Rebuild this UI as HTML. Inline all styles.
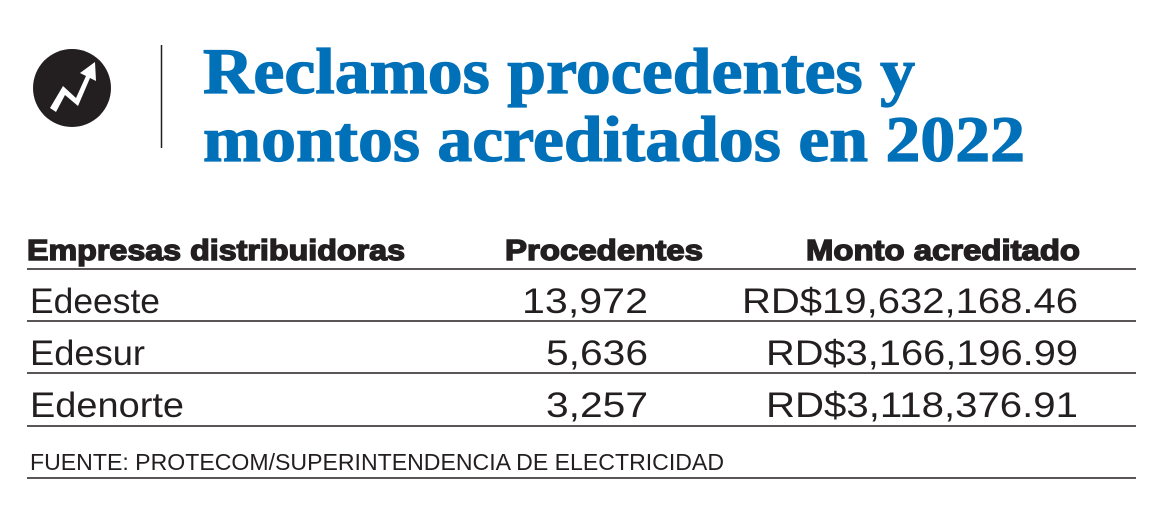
<!DOCTYPE html>
<html><head><meta charset="utf-8"><style>body{margin:0;background:#fff}svg{display:block}</style></head><body>
<svg width="1168" height="513" viewBox="0 0 1168 513" xmlns="http://www.w3.org/2000/svg">
<rect width="1168" height="513" fill="#fff"/>
<circle cx="72" cy="88" r="39" fill="#231f20"/>
<polygon points="50,108 63,86 76,98 86,76 80,73 95,62 96,81 90,78 78,106 65,95 56,112" fill="#fff"/>
<line x1="161.5" y1="45" x2="161.5" y2="148" stroke="#231f20" stroke-width="1.5"/>
<g font-family="Liberation Serif, serif" font-weight="bold" fill="#0070b8" font-size="65" stroke="#0070b8" stroke-width="1.2">
<text x="203" y="93" textLength="712" lengthAdjust="spacingAndGlyphs">Reclamos procedentes y</text>
<text x="203" y="161" textLength="822" lengthAdjust="spacingAndGlyphs">montos acreditados en 2022</text>
</g>
<g font-family="Liberation Sans, sans-serif" font-weight="bold" fill="#231f20" font-size="29" stroke="#231f20" stroke-width="1.4">
<text x="27" y="260" textLength="378" lengthAdjust="spacingAndGlyphs">Empresas distribuidoras</text>
<text x="505" y="260" textLength="198" lengthAdjust="spacingAndGlyphs">Procedentes</text>
<text x="806" y="260" textLength="274" lengthAdjust="spacingAndGlyphs">Monto acreditado</text>
</g>
<g stroke="#231f20" stroke-width="1.5">
<line x1="27" y1="269" x2="1136" y2="269"/>
<line x1="27" y1="321" x2="1136" y2="321"/>
<line x1="27" y1="373" x2="1136" y2="373"/>
<line x1="27" y1="426" x2="1136" y2="426"/>
<line x1="27" y1="478" x2="1136" y2="478"/>
</g>
<g font-family="Liberation Sans, sans-serif" fill="#231f20" font-size="35">
<text x="30" y="313" textLength="130" lengthAdjust="spacingAndGlyphs">Edeeste</text>
<text x="30" y="365" textLength="115" lengthAdjust="spacingAndGlyphs">Edesur</text>
<text x="30" y="417" textLength="154" lengthAdjust="spacingAndGlyphs">Edenorte</text>
<text x="648" y="313" text-anchor="end" textLength="126" lengthAdjust="spacingAndGlyphs">13,972</text>
<text x="648" y="365" text-anchor="end" textLength="102" lengthAdjust="spacingAndGlyphs">5,636</text>
<text x="648" y="417" text-anchor="end" textLength="102" lengthAdjust="spacingAndGlyphs">3,257</text>
<text x="1078" y="313" text-anchor="end" textLength="336" lengthAdjust="spacingAndGlyphs">RD$19,632,168.46</text>
<text x="1078" y="365" text-anchor="end" textLength="312" lengthAdjust="spacingAndGlyphs">RD$3,166,196.99</text>
<text x="1078" y="417" text-anchor="end" textLength="312" lengthAdjust="spacingAndGlyphs">RD$3,118,376.91</text>
</g>
<text x="30" y="470" font-family="Liberation Sans, sans-serif" fill="#231f20" font-size="23" textLength="694" lengthAdjust="spacingAndGlyphs">FUENTE: PROTECOM/SUPERINTENDENCIA DE ELECTRICIDAD</text>
</svg>
</body></html>
